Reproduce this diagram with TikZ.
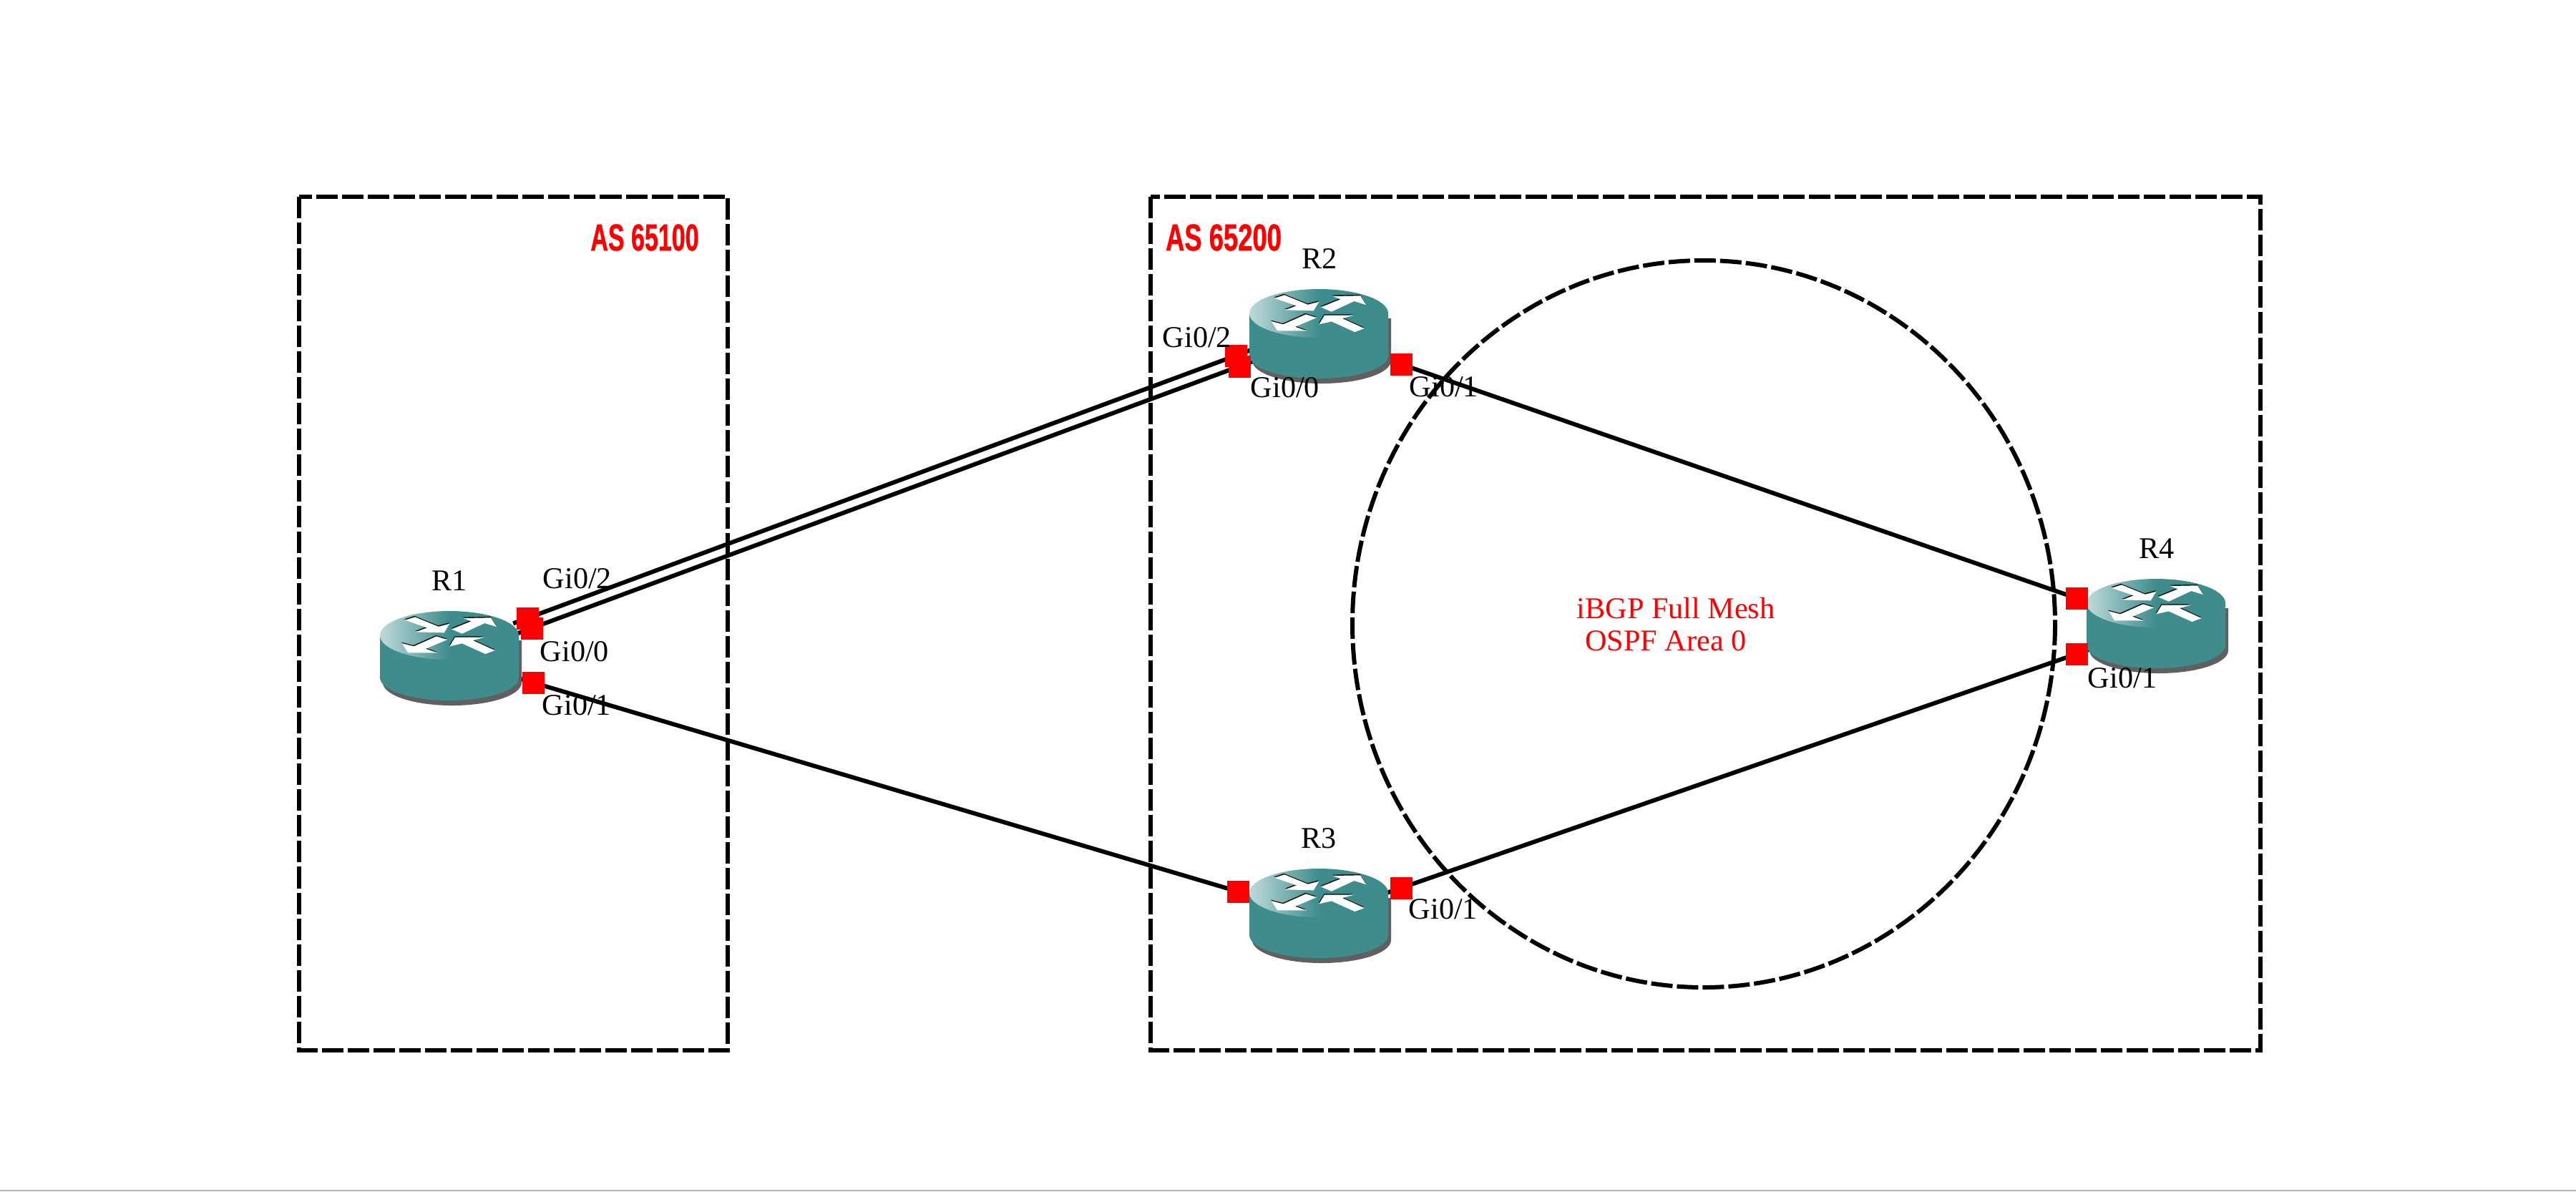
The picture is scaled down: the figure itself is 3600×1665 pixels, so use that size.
\documentclass[tikz,border=0pt]{standalone}
\usepackage{fontspec}
\setmainfont{Liberation Serif}
\newfontfamily\asfont[FakeStretch=0.645, BoldFeatures={FakeBold=0.7}]{Liberation Sans}
\newfontfamily\asfontwide[FakeStretch=0.69, BoldFeatures={FakeBold=0.7}]{Liberation Sans}
\usetikzlibrary{positioning, backgrounds}

\definecolor{routerteal}{RGB}{62,140,140}
\definecolor{routerlight}{RGB}{190,218,218}
\definecolor{routershadow}{RGB}{96,96,96}
\pgfdeclarehorizontalshading{routertop}{100bp}{color(0bp)=(routerlight); color(25bp)=(routerlight); color(50bp)=(routerteal); color(100bp)=(routerteal)}

\tikzset{
  zone/.style={black, line width=1.7pt, dash pattern=on 30*0.2845pt off 6*0.2845pt},
  link/.style={black, line width=1.7pt, shorten <=-6pt, shorten >=-6pt},
  port/.style={fill=red, minimum size=31*0.2845pt, inner sep=0pt},
  portlabel/.style={font=\fontsize{12}{14}\selectfont, inner sep=0pt},
  redlabel/.style={text=red, font=\fontsize{12}{14}\selectfont, inner sep=0pt},
  aslabel/.style={text=red, font=\asfont\bfseries\fontsize{15}{18}\selectfont, inner sep=0pt},
  aslabelwide/.style={aslabel, font=\asfontwide\bfseries\fontsize{15}{18}\selectfont},
  arrowpart/.style={fill=white, preaction={fill=black, transform canvas={xshift=-0.15pt, yshift=0.4pt}}},
  pics/router/.style={code={
    \fill[routershadow] (-93,41) -- (-93,100) arc[start angle=180, end angle=0, x radius=97, y radius=32] -- (101,41) -- cycle;
    \fill[routerteal] (-97,34) -- (-97,93) arc[start angle=180, end angle=0, x radius=97, y radius=32] -- (97,34) -- cycle;
    \shade[shading=routertop] (0,34) ellipse[x radius=97, y radius=34];
    \fill[arrowpart] (-62,12.7) -- (-48,8.3) -- (-15.3,21.7) -- (0.3,17.7) -- (-7.3,30.3) -- (-47,29.3) -- (-31.3,23.3) -- cycle;
    \fill[arrowpart] (3,25.3) -- (30.3,14.3) -- (19.7,10) -- (58,9.3) -- (66,22) -- (49.3,17) -- (17.7,31.7) -- cycle;
    \fill[arrowpart] (-58,58.3) -- (-66.3,45) -- (-49.7,49.3) -- (-18,35.3) -- (-3,40) -- (-33,52.7) -- (-17.3,58.3) -- cycle;
    \fill[arrowpart] (0.3,49.3) -- (8,36.7) -- (48.7,36.7) -- (33,41) -- (63.7,55) -- (50.3,60) -- (17.7,45.3) -- cycle;
  }}
}

\begin{document}
\begin{tikzpicture}[x=0.01cm, y=-0.01cm]
  \useasboundingbox (0,0) rectangle (3600,1665);
  \draw[gray!60, line width=0.6pt] (0,1664) -- (3600,1664);

  % zones
  \draw[zone] (418,275) rectangle (1017,1468);
  \draw[zone] (1608,275) rectangle (3159,1468);
  \draw[zone] (2381,872) ellipse[x radius=491, y radius=508];

  % routers
  \foreach \name/\x/\y in {r1/628/854, r2/1843/404, r3/1843/1214, r4/3013/809} {
    \pic (\name) at (\x,\y) {router};
  }

  % ports
  \node[port] (r1g2) at (737,864) {};
  \node[port] (r1g0) at (743,878) {};
  \node[port] (r1g1) at (745,954) {};
  \node[port] (r2g2) at (1727,497) {};
  \node[port] (r2g0) at (1732,512) {};
  \node[port] (r2g1) at (1958,509) {};
  \node[port] (r3g0) at (1730,1246) {};
  \node[port] (r3g1) at (1958,1241) {};
  \node[port] (r4g0) at (2902,836) {};
  \node[port] (r4g1) at (2902,914) {};

  % links
  \begin{scope}[on background layer]
    \draw[link] (r1g2.center) -- (r2g2.center);
    \draw[link] (r1g0.center) -- (r2g0.center);
    \draw[link] (r1g1.center) -- (r3g0.center);
    \draw[link] (r2g1.center) -- (r4g0.center);
    \draw[link] (r3g1.center) -- (r4g1.center);
  \end{scope}

  \node[portlabel] (r1name) at (628,812) {R1};
  \node[portlabel] (r2name) at (1844,362) {R2};
  \node[portlabel] (r3name) at (1843,1172) {R3};
  \node[portlabel] (r4name) at (3014,767) {R4};

  \node[portlabel] (r1g2text) at (807,809) {Gi0/2};
  \node[portlabel] (r1g0text) at (803,911) {Gi0/0};
  \node[portlabel] (r1g1text) at (806,986) {Gi0/1};
  \node[portlabel] (r2g2text) at (1673,472) {Gi0/2};
  \node[portlabel] (r2g0text) at (1796,542) {Gi0/0};
  \node[portlabel] (r2g1text) at (2018,541) {Gi0/1};
  \node[portlabel] (r3g1text) at (2017,1271) {Gi0/1};
  \node[portlabel] (r4g1text) at (2966,948) {Gi0/1};

  \node[aslabel] (as1) at (901,332) {AS 65100};
  \node[aslabelwide] (as2) at (1710,332) {AS 65200};
  \node[redlabel] (ibgp) at (2342,850) {iBGP Full Mesh};
  \node[redlabel] (ospf) at (2328,896) {OSPF Area 0};
\end{tikzpicture}
\end{document}
